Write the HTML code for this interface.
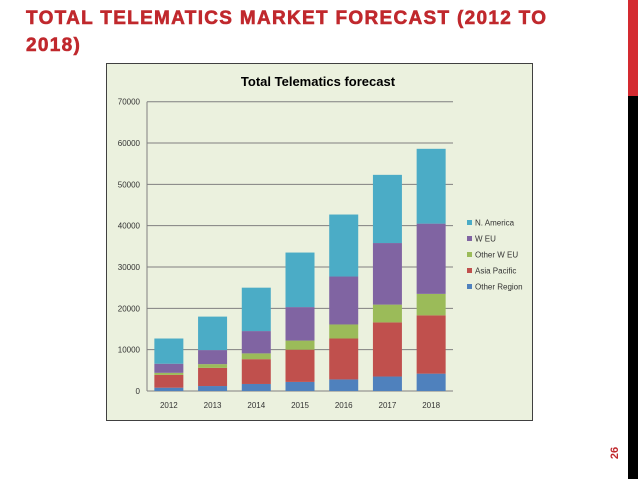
<!DOCTYPE html>
<html><head><meta charset="utf-8"><style>
body{margin:0;width:638px;height:479px;background:#fff;position:relative;overflow:hidden;font-family:"Liberation Sans",sans-serif}
.t{position:absolute;left:26px;top:5px;color:#c0282d;font-weight:bold;font-size:19px;line-height:27px;letter-spacing:1.3px;-webkit-text-stroke:0.6px #c0282d}
</style></head><body>
<div class="t">TOTAL TELEMATICS MARKET FORECAST (2012 TO<br>2018)</div>
<div style="position:absolute;left:628px;top:0;width:10px;height:96px;background:#d42a30"></div>
<div style="position:absolute;left:628px;top:96px;width:10px;height:383px;background:#000"></div>
<div style="position:absolute;left:609px;top:447px;transform:rotate(-90deg);color:#c0282d;font-weight:bold;font-size:11px">26</div>
<svg id="c" width="638" height="479" style="position:absolute;left:0;top:0"></svg>
<script>
const years=["2012","2013","2014","2015","2016","2017","2018"];
const otherRegion=[800,1200,1700,2200,2800,3500,4200];
const asiaPacific=[3100,4400,6000,7800,9900,13100,14100];
const otherWEU=[500,900,1400,2200,3400,4300,5200];
const wEU=[2200,3400,5400,8100,11600,14900,17000];
const nAmerica=[6100,8100,10500,13200,15000,16500,18100];
const yTicks=[0,10000,20000,30000,40000,50000,60000,70000];
const series=[["Other Region",otherRegion,"#4f81bd"],["Asia Pacific",asiaPacific,"#c0504d"],["Other W EU",otherWEU,"#9bbb59"],["W EU",wEU,"#8064a2"],["N. America",nAmerica,"#4bacc6"]];
const svg=document.getElementById('c');const NS="http://www.w3.org/2000/svg";
function mk(t,a,p){const e=document.createElementNS(NS,t);for(const k in a)e.setAttribute(k,a[k]);(p||svg).appendChild(e);return e;}
const x0=147,x1=453,y0=391,y1=101.7,maxV=70000;
const Y=v=>y0-(v/maxV)*(y0-y1);
const step=(x1-x0)/years.length;const X=i=>x0+step*(i+0.5);
let e=mk('rect',{x:106.5,y:63.5,width:426,height:357,fill:'#ebf1de',stroke:'#404040','stroke-width':1});

e=mk('text',{x:318,y:86,'text-anchor':'middle','font-size':13,'font-weight':'bold',fill:'#000','font-family':'Liberation Sans, sans-serif'});e.textContent='Total Telematics forecast';

yTicks.forEach(v=>{const l=mk('line',{x1:x0,x2:x1,y1:Y(v),y2:Y(v),stroke:'#808080','stroke-width':1});

const t=mk('text',{x:140,y:Y(v)+3,'text-anchor':'end','font-size':8,fill:'#333'});t.textContent=v;
});
e=mk('line',{x1:x0,x2:x0,y1:y1,y2:y0,stroke:'#808080'});
years.forEach((yr,i)=>{let cum=0;series.forEach(s=>{const v=s[1][i];const r=mk('rect',{x:X(i)-14.5,y:Y(cum+v),width:29,height:Y(cum)-Y(cum+v),fill:s[2]});
cum+=v;});
const t=mk('text',{x:X(i),y:408,'text-anchor':'middle','font-size':8,fill:'#333'});t.textContent=yr;
});
series.slice().reverse().forEach((s,j)=>{const y=223+j*16;
const r=mk('rect',{x:467,y:y-3,width:5,height:5,fill:s[2]});
const t=mk('text',{x:475,y:y+2.5,'font-size':8,fill:'#333'});t.textContent=s[0];});
</script>
</body></html>
